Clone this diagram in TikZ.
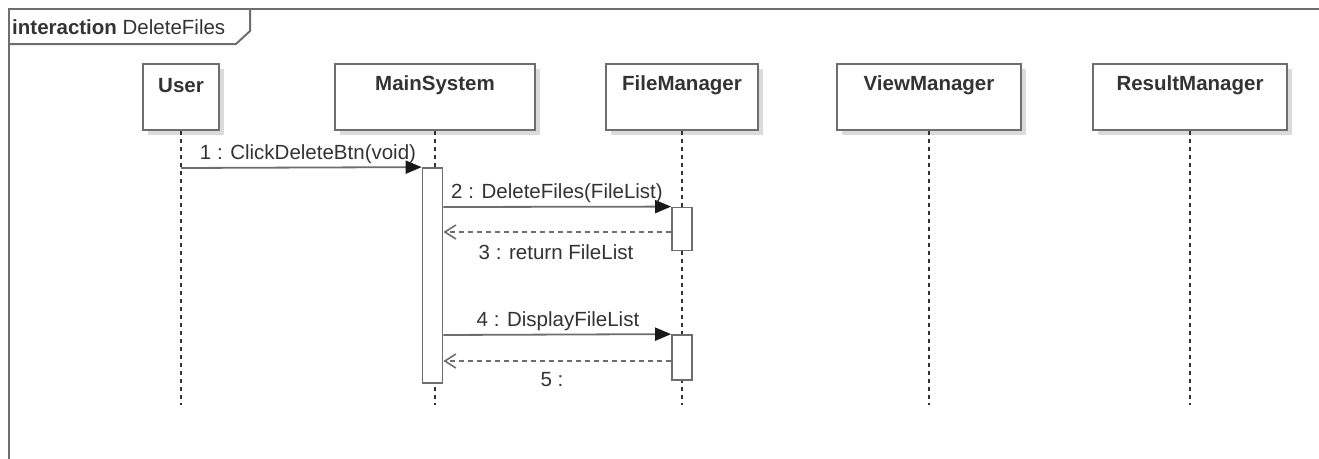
\documentclass[tikz,border=0pt]{standalone}
\usepackage{fontspec}
\setmainfont{Liberation Sans}
\usetikzlibrary{arrows.meta,shadows}
\definecolor{linec}{HTML}{6E6E6E}
\definecolor{txtc}{HTML}{333333}
\tikzset{
  head/.style={draw=linec, line width=1.8pt, fill=white, inner sep=0pt,
    minimum height=66pt, drop shadow={shadow xshift=5pt, shadow yshift=-5pt, fill=black!14, opacity=1}},
  headtxt/.style={font=\fontsize{20.5}{24}\selectfont\bfseries, text=txtc, inner sep=0pt},
  life/.style={draw=black!80, line width=1.4pt, dash pattern=on 4pt off 4pt},
  act/.style={draw=linec, line width=1.8pt, fill=white, minimum width=20pt, inner sep=0pt},
  msg/.style={draw=linec, line width=1.8pt, -{Triangle[length=16pt,width=13pt,color=black!90]}},
  ret/.style={draw=linec, line width=1.8pt, dash pattern=on 5pt off 4pt, -{Straight Barb[length=11pt,width=14pt,line width=1.6pt]}},
  lbl/.style={font=\fontsize{20.5}{24}\selectfont, text=txtc, inner sep=0pt},
  framec/.style={draw=linec, line width=2pt}
}
\begin{document}
\begin{tikzpicture}[x=1pt,y=-1pt]
\useasboundingbox (0,0) rectangle (1319,458);
\clip (0,0) rectangle (1319,458);
\fill[white] (0,0) rectangle (1319,458);
% frame
\draw[framec] (1330,9) -- (9,9) -- (9,470);
\draw[framec] (9,44) -- (236,44) -- (250,31) -- (250,9);
\node[lbl, anchor=west] (title) at (12,27) {\textbf{interaction} DeleteFiles};
% heads
\node[head, minimum width=76pt] (user) at (181,97) {};
\node[head, minimum width=200pt] (mainsys) at (435,97) {};
\node[head, minimum width=152pt] (filemgr) at (682,97) {};
\node[head, minimum width=184pt] (viewmgr) at (929,97) {};
\node[head, minimum width=194pt] (resmgr) at (1190,97) {};
\node[headtxt] (usert) at ([yshift=-22pt]user.north) {User};
\node[headtxt] (mainsyst) at ([yshift=-22pt]mainsys.north) {MainSystem};
\node[headtxt] (filemgrt) at ([yshift=-22pt]filemgr.north) {FileManager};
\node[headtxt] (viewmgrt) at ([yshift=-22pt]viewmgr.north) {ViewManager};
\node[headtxt] (resmgrt) at ([yshift=-22pt]resmgr.north) {ResultManager};
% lifeline ends
\coordinate (userE) at (181,405);
\coordinate (mainsysE) at (435,405);
\coordinate (filemgrE) at (682,405);
\coordinate (viewmgrE) at (929,405);
\coordinate (resmgrE) at (1190,405);
\draw[life] (user.south) -- (userE);
\draw[life] (mainsys.south) -- (mainsysE);
\draw[life] (filemgr.south) -- (filemgrE);
\draw[life] (viewmgr.south) -- (viewmgrE);
\draw[life] (resmgr.south) -- (resmgrE);
% activations
\node[act, minimum height=215pt] (actM) at (432.5,275.5) {};
\node[act, minimum height=43pt] (actF1) at (682,229) {};
\node[act, minimum height=45pt] (actF2) at (682,357.5) {};
% message anchors
\coordinate (m1s) at (181,168);
\coordinate (m1e) at (actM.north west);
\coordinate (m2s) at (actM.east |- 0,207);
\coordinate (m2e) at (actF1.north west);
\coordinate (m3s) at (actF1.west |- 0,232);
\coordinate (m3e) at (actM.east |- 0,232);
\coordinate (m4s) at (actM.east |- 0,335);
\coordinate (m4e) at (actF2.north west);
\coordinate (m5s) at (actF2.west |- 0,361);
\coordinate (m5e) at (actM.east |- 0,361);
\draw[msg] (m1s) -- (m1e);
\draw[msg] (m2s) -- (m2e);
\draw[ret] (m3s) -- (m3e);
\draw[msg] (m4s) -- (m4e);
\draw[ret] (m5s) -- (m5e);
% labels
\node[lbl] (l1) at (308,154) {1 : ClickDeleteBtn(void)};
\node[lbl] (l2) at (557,193) {2 : DeleteFiles(FileList)};
\node[lbl] (l3) at (556,252) {3 : return FileList};
\node[lbl] (l4) at (558,321) {4 : DisplayFileList};
\node[lbl] (l5) at (552,380) {5 :};
\end{tikzpicture}
\end{document}
